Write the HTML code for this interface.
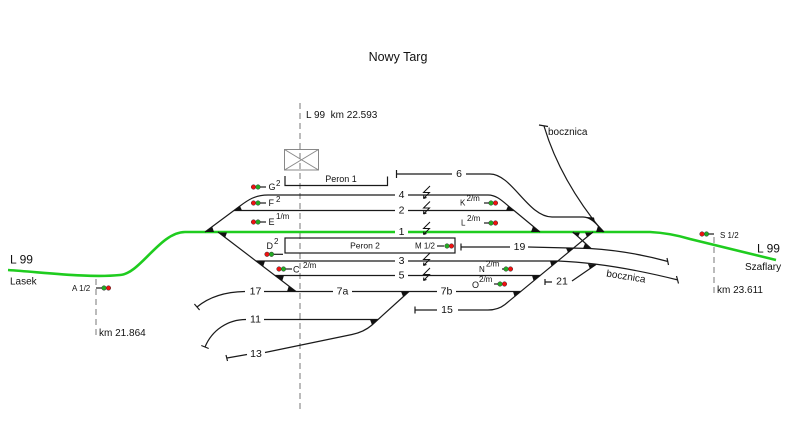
<!DOCTYPE html>
<html>
<head>
<meta charset="utf-8">
<style>
html,body{margin:0;padding:0;background:#fff;}
svg{display:block;}
text{font-family:"Liberation Sans",Arial,sans-serif;fill:#111;}
.t{stroke:#1a1a1a;stroke-width:1.2;fill:none;}
.g{stroke:#1fcc1f;stroke-width:2.6;fill:none;}
.d{stroke:#777;stroke-width:1;stroke-dasharray:6,4;fill:none;}
.w{fill:#111;stroke:none;}
.n{font-size:10.5px;}
.s{font-size:9px;}
.p{font-size:8px;}
.z{stroke:#111;stroke-width:1;fill:none;}
</style>
</head>
<body>
<svg width="787" height="424" viewBox="0 0 787 424" xmlns="http://www.w3.org/2000/svg">
<rect width="787" height="424" fill="#fff"/>

<!-- title -->
<text x="398" y="61" font-size="12.5" text-anchor="middle">Nowy Targ</text>

<!-- main dashed km line -->
<path class="d" d="M300,103 L300,410"/>
<text x="306" y="118" font-size="10">L 99&#160; km 22.593</text>

<!-- station building -->
<rect x="284.5" y="149.5" width="34" height="20.5" fill="none" stroke="#888" stroke-width="1"/>
<path d="M284.5,149.5 L318.5,170 M318.5,149.5 L284.5,170" stroke="#888" stroke-width="1" fill="none"/>

<!-- Peron 1 -->
<path class="t" d="M285,176 L285,185.5 L387.5,185.5 L387.5,176.5"/>
<text x="341" y="182" font-size="9" text-anchor="middle">Peron 1</text>

<!-- Peron 2 -->
<rect x="285" y="238" width="170" height="15" fill="none" stroke="#1a1a1a" stroke-width="1.2"/>
<text x="365" y="248.5" font-size="8.5" text-anchor="middle">Peron 2</text>
<text x="415" y="248.5" class="p">M 1/2</text>
<path class="t" d="M437,246 L444,246"/>
<circle cx="447" cy="246" r="2.3" fill="#2a2" stroke="#333" stroke-width="0.5"/>
<circle cx="451.5" cy="246" r="2.3" fill="#e11" stroke="#333" stroke-width="0.5"/>

<!-- green main line -->
<path class="g" d="M8,270 C50,273 90,278 120,275 C140,274 160,232 185,232 L395,232"/>
<path class="g" d="M408,232 L650,232 Q670,233 690,239 L776,260"/>

<!-- upper left diagonal + track 4 + track 2 -->
<path class="t" d="M205,232 L240,206 C248,200 255,195 268,195 L395,195"/>
<path class="t" d="M408,195 L488,195 C498,195 504,203 514,210.5 L540,232"/>
<path class="t" d="M234,210.5 L395,210.5 M408,210.5 L514,210.5"/>

<!-- track 6 -->
<path class="t" d="M396.5,170 L396.5,178 M396.5,174 L452,174"/>
<path class="t" d="M466,174 L490,174 C512,174 528,217 552,217 L583,217 C592,217 598,226 604,232"/>

<!-- bocznica upper -->
<path class="t" d="M544,126 Q560,180 603,232"/>
<path class="t" d="M539,125 L548,126.5"/>
<text x="548" y="135" font-size="10">bocznica</text>

<!-- lower left diagonal -->
<path class="t" d="M218,232 L296,291.5"/>
<!-- track 3 -->
<path class="t" d="M256,261 L395,261 M408,261 L558,261 Q610,263 678,280"/>
<path class="t" d="M676.5,276 L678.5,283.5"/>
<!-- track 5 -->
<path class="t" d="M275,275.5 L395,275.5 M408,275.5 L540.5,275.5"/>
<!-- 7a / 7b -->
<path class="t" d="M264,291.5 L333,291.5 M352,291.5 L437,291.5 M456,291.5 L521,291.5"/>
<!-- 17 -->
<path class="t" d="M245,291.5 Q215,292 197,307"/>
<path class="t" d="M194.4,304 L199.6,310"/>
<!-- 11 -->
<path class="t" d="M264,319.5 L378,319.5"/>
<path class="t" d="M246,319.5 C228,319.5 212,330 205,347"/>
<path class="t" d="M201.3,345.5 L208.7,348.5"/>
<!-- middle diagonal + 13 -->
<path class="t" d="M409,291.5 L372,325 Q364,332 352,334.5 L265,352.5"/>
<path class="t" d="M247,354.5 L227,358 M226,355 L227.5,361"/>
<!-- 15 + big diagonal -->
<path class="t" d="M415,306.5 L415,313.5 M415,310 L437,310"/>
<path class="t" d="M458,310 L488,310 Q498,310 505,304.5 L593,232"/>
<!-- 19 -->
<path class="t" d="M461,243.5 L461,250.5 M461,247 L510,247"/>
<path class="t" d="M528,247 L590,248.5 Q630,251 668,261.5"/>
<path class="t" d="M667,258 L668.5,265"/>
<!-- crossover leg -->
<path class="t" d="M573,232 L591,248.5"/>
<!-- 21 -->
<path class="t" d="M545,279 L545,285 M545,282 L552,282 M572,281 L596,264.5"/>
<text x="606" y="276.5" font-size="10" transform="rotate(9 606 276.5)">bocznica</text>

<!-- frog wedges -->
<polygon class="w" points="205,232 214,232 212.2,226.6"/>
<polygon class="w" points="234,210.5 242,210.5 240,206"/>
<polygon class="w" points="218,232.5 227,232.5 225.2,237.5"/>
<polygon class="w" points="256,261 265,261 263.2,266.5"/>
<polygon class="w" points="275,275.5 284,275.5 282.2,281"/>
<polygon class="w" points="296,291.5 287,291.5 288.8,286"/>
<polygon class="w" points="409,291.5 401,291.5 403,296.5"/>
<polygon class="w" points="378,319.5 370,319.5 372,325"/>
<polygon class="w" points="521,291.5 513,291.5 514.5,296.5"/>
<polygon class="w" points="540.5,275.5 532,275.5 533.5,280.5"/>
<polygon class="w" points="558,261 550,261 551.5,266"/>
<polygon class="w" points="574.3,248 566,248 568,252.5"/>
<polygon class="w" points="591,248.5 583,248.5 585,243.5"/>
<polygon class="w" points="572,232.5 580,232.5 578,237"/>
<polygon class="w" points="593,232.5 585,232.5 587,237"/>
<polygon class="w" points="514,210.5 506,210.5 508,206"/>
<polygon class="w" points="540,232 531,232 533,226.5"/>
<polygon class="w" points="586,217 594,217.5 595,222.5"/>
<polygon class="w" points="604,232 596,232 598,226"/>
<polygon class="w" points="596,264.5 588,264 590,269"/>

<!-- lightning symbols -->
<g class="z">
<path d="M430,186 L423.5,192.5 L429.5,192.5 L423.5,198.5 M423.5,198.5 L423.8,195.5 M423.5,198.5 L426.5,197.5"/>
<path d="M430,201.5 L423.5,208 L429.5,208 L423.5,214 M423.5,214 L423.8,211 M423.5,214 L426.5,213"/>
<path d="M430,222 L423.5,228.5 L429.5,228.5 L423.5,234.5 M423.5,234.5 L423.8,231.5 M423.5,234.5 L426.5,233.5"/>
<path d="M430,253 L423.5,259.5 L429.5,259.5 L423.5,265.5 M423.5,265.5 L423.8,262.5 M423.5,265.5 L426.5,264.5"/>
<path d="M430,268 L423.5,274.5 L429.5,274.5 L423.5,280.5 M423.5,280.5 L423.8,277.5 M423.5,280.5 L426.5,279.5"/>
</g>

<!-- track number labels -->
<g class="n" text-anchor="middle" dominant-baseline="central">
<text x="401.5" y="195">4</text>
<text x="401.5" y="210.5">2</text>
<text x="401.5" y="232">1</text>
<text x="401.5" y="261">3</text>
<text x="401.5" y="275.5">5</text>
<text x="459" y="174">6</text>
<text x="519.5" y="247">19</text>
<text x="342.5" y="291.5">7a</text>
<text x="446.5" y="291.5">7b</text>
<text x="447" y="310">15</text>
<text x="255.5" y="291.5">17</text>
<text x="255.5" y="319.5">11</text>
<text x="256" y="354">13</text>
<text x="562" y="281.5">21</text>
</g>

<!-- left signals -->
<circle cx="253.5" cy="187" r="2.3" fill="#e11" stroke="#333" stroke-width="0.5"/>
<circle cx="258" cy="187" r="2.3" fill="#2a2" stroke="#333" stroke-width="0.5"/>
<path class="t" d="M260.5,187 L266,187"/>
<text x="268.5" y="190" class="s">G</text><text x="276" y="186" class="p">2</text>

<circle cx="253.5" cy="203" r="2.3" fill="#e11" stroke="#333" stroke-width="0.5"/>
<circle cx="258" cy="203" r="2.3" fill="#2a2" stroke="#333" stroke-width="0.5"/>
<path class="t" d="M260.5,203 L266,203"/>
<text x="268.5" y="206" class="s">F</text><text x="276" y="202" class="p">2</text>

<circle cx="253.5" cy="222" r="2.3" fill="#e11" stroke="#333" stroke-width="0.5"/>
<circle cx="258" cy="222" r="2.3" fill="#2a2" stroke="#333" stroke-width="0.5"/>
<path class="t" d="M260.5,222 L266,222"/>
<text x="268.5" y="225" class="s">E</text><text x="276" y="219" class="p">1/m</text>

<text x="266.5" y="249" class="s">D</text><text x="274" y="244" class="p">2</text>
<circle cx="267" cy="254.3" r="2.3" fill="#e11" stroke="#333" stroke-width="0.5"/>
<circle cx="271.5" cy="254.3" r="2.3" fill="#2a2" stroke="#333" stroke-width="0.5"/>
<path class="t" d="M274,254.3 L283,254.3"/>

<circle cx="279" cy="269" r="2.3" fill="#e11" stroke="#333" stroke-width="0.5"/>
<circle cx="283.5" cy="269" r="2.3" fill="#2a2" stroke="#333" stroke-width="0.5"/>
<path class="t" d="M286,269 L292,269"/>
<text x="293" y="272.5" class="s">C</text><text x="303" y="268" class="p">2/m</text>

<!-- right signals -->
<text x="460" y="205.5" class="p">K</text><text x="466.5" y="201" class="p">2/m</text>
<path class="t" d="M484,203 L489,203"/>
<circle cx="491" cy="203" r="2.3" fill="#2a2" stroke="#333" stroke-width="0.5"/>
<circle cx="495.5" cy="203" r="2.3" fill="#e11" stroke="#333" stroke-width="0.5"/>

<text x="461" y="225.5" class="p">L</text><text x="467" y="221" class="p">2/m</text>
<path class="t" d="M484,223 L489,223"/>
<circle cx="491" cy="223" r="2.3" fill="#2a2" stroke="#333" stroke-width="0.5"/>
<circle cx="495.5" cy="223" r="2.3" fill="#e11" stroke="#333" stroke-width="0.5"/>

<text x="479" y="272" class="p">N</text><text x="486" y="266.5" class="p">2/m</text>
<path class="t" d="M502,269 L504,269"/>
<circle cx="506" cy="269" r="2.3" fill="#2a2" stroke="#333" stroke-width="0.5"/>
<circle cx="510.5" cy="269" r="2.3" fill="#e11" stroke="#333" stroke-width="0.5"/>

<text x="472" y="288" class="s">O</text><text x="479" y="282" class="p">2/m</text>
<path class="t" d="M494,284 L498,284"/>
<circle cx="500" cy="284" r="2.3" fill="#2a2" stroke="#333" stroke-width="0.5"/>
<circle cx="504.5" cy="284" r="2.3" fill="#e11" stroke="#333" stroke-width="0.5"/>

<!-- left end -->
<text x="10" y="263.5" font-size="12">L 99</text>
<text x="10" y="284.5" font-size="10">Lasek</text>
<text x="72" y="291" class="p">A 1/2</text>
<path class="d" d="M96,279 L96,338"/>
<path class="t" d="M96,288 L101.5,288"/>
<circle cx="104" cy="288" r="2.3" fill="#2a2" stroke="#333" stroke-width="0.5"/>
<circle cx="108.5" cy="288" r="2.3" fill="#e11" stroke="#333" stroke-width="0.5"/>
<text x="99" y="336" font-size="10">km 21.864</text>

<!-- right end -->
<circle cx="702" cy="234" r="2.3" fill="#e11" stroke="#333" stroke-width="0.5"/>
<circle cx="706.5" cy="234" r="2.3" fill="#2a2" stroke="#333" stroke-width="0.5"/>
<path class="t" d="M709,234 L714,234"/>
<path class="d" d="M714,237 L714,297"/>
<text x="720" y="238" class="p">S 1/2</text>
<text x="757" y="252.5" font-size="12">L 99</text>
<text x="745" y="270" font-size="10">Szaflary</text>
<text x="717" y="293" font-size="10">km 23.611</text>
</svg>
</body>
</html>
